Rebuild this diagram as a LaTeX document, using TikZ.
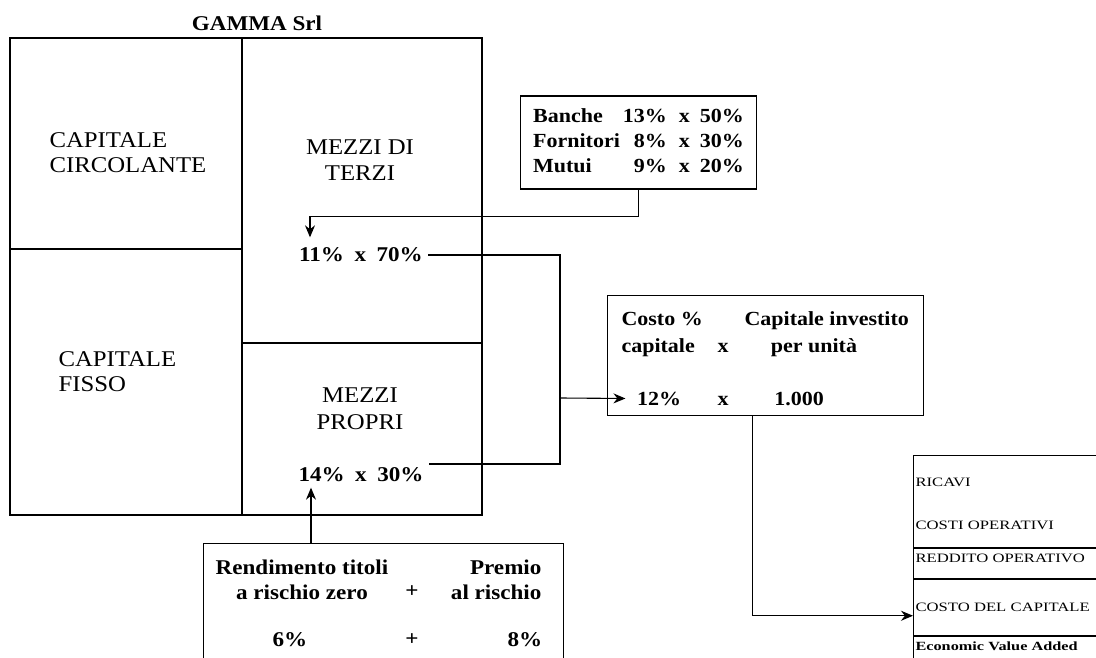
\documentclass[tikz,border=0pt]{standalone}
\usepackage{fontspec}
\setmainfont{Liberation Serif}[FakeStretch=1.1]
\newfontfamily\panelfont{Liberation Serif}[FakeStretch=1.3]
\usetikzlibrary{positioning,arrows.meta}
\tikzset{
    areatext/.style={
        font=\fontsize{22.5}{25.5}\selectfont,align=left,inner sep=0pt
    },
    midtext/.style={
        font=\fontsize{22.5}{26.5}\selectfont,align=center,inner sep=0pt
    },
    pcttext/.style={
        font=\bfseries\fontsize{21}{25}\selectfont,inner sep=5pt
    },
    infotext/.style={
        font=\bfseries\fontsize{20}{25}\selectfont,inner sep=1pt
    },
    sumtext/.style={
        font=\bfseries\fontsize{21}{25}\selectfont,inner sep=1pt
    },
    framebox/.style={
        draw,rectangle,anchor=north west,inner sep=0pt
    },
    panelrow/.style={
        draw,rectangle,text width=196pt,inner xsep=2pt,inner ysep=0pt,align=left,
        font=\panelfont\fontsize{12.8}{16}\selectfont
    }
}

\begin{document}
\begin{tikzpicture}[x=1pt,y=-1pt,line width=1.1pt,>={Stealth[length=12pt,width=10pt]}]
\useasboundingbox (0,0) rectangle (1096,658);
\fill[white] (0,0) rectangle (1096,658);
% stato patrimoniale
\node[sumtext] (title) at (257,23) {GAMMA Srl};
\draw (10,38) rectangle (482,515);
\draw (242,38) -- (242,515);
\draw (10,249) -- (242,249);
\draw (242,343) -- (482,343);
\node[areatext,anchor=west] (circ) at (49,152.5) {CAPITALE\\CIRCOLANTE};
\node[areatext,anchor=west] (fisso) at (58,371.5) {CAPITALE\\FISSO};
\node[midtext] (terzi) at (360,160) {MEZZI DI\\TERZI};
\node[midtext] (propri) at (360,408.5) {MEZZI\\PROPRI};
\node[pcttext] (p11) at (361,255) {11\%\enspace x\enspace 70\%};
\node[pcttext] (p14) at (361,475) {14\%\enspace x\enspace 30\%};
% debiti
\node[draw,infotext,inner xsep=13pt,minimum height=93pt] (banche) at (638.5,142.5) {%
    \begin{tabular}{@{}l@{\hspace{3pt}}r@{\hspace{12pt}}c@{\hspace{10pt}}r@{}}
    Banche & 13\% & x & 50\%\\
    Fornitori & 8\% & x & 30\%\\
    Mutui & 9\% & x & 20\%
    \end{tabular}};
% costo del capitale
\node[framebox,minimum width=316pt,minimum height=120pt] (costo) at (607,295) {};
\node[infotext,anchor=base west] (costopc) at (620,325) {Costo \%};
\node[infotext,anchor=base west] (capit) at (620,352) {capitale};
\node[infotext,anchor=base] (x1) at (723,352) {x};
\node[infotext,anchor=base west] (capinv) at (743,325) {Capitale investito};
\node[infotext,anchor=base] (unita) at (814,352) {per unità};
\node[infotext,anchor=base] (c12) at (659,405) {12\%};
\node[infotext,anchor=base] (x2) at (723,405) {x};
\node[infotext,anchor=base] (mille) at (799,405) {1.000};
% capitale proprio
\node[framebox,minimum width=360pt,minimum height=150pt] (rend) at (203,543) {};
\node[sumtext,align=center] (titoli) at (302,580) {Rendimento titoli\\a rischio zero};
\node[sumtext] (plus1) at (412,592) {+};
\node[sumtext,align=right,anchor=east] (premio) at (543,580) {Premio\\al rischio};
\node[sumtext] (r6) at (290,640) {6\%};
\node[sumtext] (plus2) at (412,640) {+};
\node[sumtext] (r8) at (525,640) {8\%};
% conto economico
\node[panelrow,anchor=north west,minimum height=92pt] (ricavi) at (913,455) {\mbox{}\\[-2pt]RICAVI\\[27pt]COSTI OPERATIVI};
\node[panelrow,below=0pt of ricavi,minimum height=30pt] (reddito) {REDDITO OPERATIVO\\[-6pt]\mbox{}};
\node[panelrow,below=0pt of reddito,minimum height=56pt] (costocap) {COSTO DEL CAPITALE};
\node[panelrow,below=0pt of costocap,minimum height=24pt,
      font=\panelfont\bfseries\fontsize{12.5}{15}\selectfont] (eva) {\mbox{}\\[-11pt]Economic Value Added};
\draw[line width=2.4pt] (reddito.north west) -- (reddito.north east);
\draw[line width=2.4pt] (reddito.south west) -- (reddito.south east);
\draw[line width=1.6pt] (eva.north west) -- (eva.north east);
% collegamenti
\coordinate (join) at (560,398);
\coordinate (tip14) at ([xshift=-50pt]p14.south);
\draw[->,shorten >=5pt] (banche.south) -- ++(0,27) -| ([xshift=-51pt]p11.north);
\draw (p11.east) -| (join);
\draw ([yshift=11pt]p14.east) -| (join);
\draw[->] (join) -- ([xshift=-10pt]c12.west);
\draw[->] (tip14 |- rend.north) -- (tip14);
\draw[->] ([xshift=-13pt]costo.south) |- ([yshift=-8pt]costocap.west);
\end{tikzpicture}
\end{document}
